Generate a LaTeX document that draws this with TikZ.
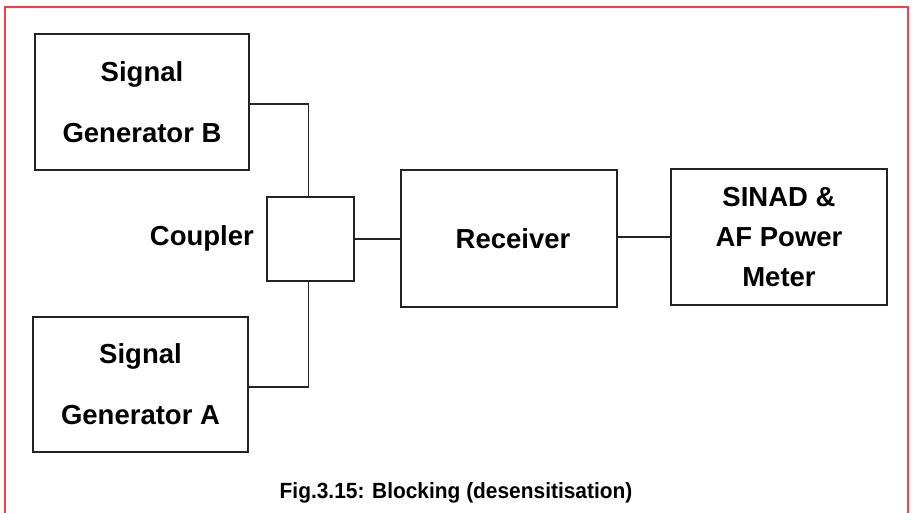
\documentclass[tikz,border=0pt]{standalone}
\usepackage{fontspec}
\setmainfont{Liberation Sans}
\definecolor{frame}{RGB}{250,60,70}
\definecolor{ink}{RGB}{35,35,35}
\begin{document}
\begin{tikzpicture}[x=1pt,y=-1pt,
  blockbox/.style={draw=ink,line width=1.3pt,rectangle,inner sep=0pt,align=center,
    font=\fontsize{27.5}{61}\selectfont\bfseries},
  wire/.style={draw=ink,line width=1.2pt},
  lbl/.style={inner sep=0pt,font=\fontsize{27.5}{33}\selectfont\bfseries}]
\useasboundingbox (0,0) rectangle (914,513);
\draw[frame,line width=1.6pt] (5,513) -- (5,7) -- (908,7) -- (908,513);
\node[blockbox,minimum width=214pt,minimum height=136pt] (genb) at (142,102) {Signal\\Generator B};
\node[blockbox,minimum width=215pt,minimum height=135pt] (gena) at (140.5,384.5) {Signal\\Generator A};
\node[blockbox,minimum width=87pt,minimum height=84pt] (coup) at (310.5,239) {};
\node[lbl,anchor=east] (coupl) at (254,238) {Coupler};
\node[blockbox,minimum width=216pt,minimum height=137pt] (rx) at (509,238.5) {\hspace*{8pt}Receiver};
\node[blockbox,minimum width=216pt,minimum height=136pt,font=\fontsize{27.5}{40}\selectfont\bfseries] (sinad) at (779,237) {SINAD \&\\AF Power\\Meter};
\coordinate (bturn) at (308.5,104);
\coordinate (aturn) at (308.5,387);
\draw[wire] (genb.east |- bturn) -- (bturn) -- (coup.north -| bturn);
\draw[wire] (gena.east |- aturn) -- (aturn) -- (coup.south -| aturn);
\draw[wire] (coup.east) -- (rx.west |- coup.east);
\draw[wire] (rx.east |- sinad.west) -- (sinad.west);
\node[inner sep=0pt,font=\fontsize{22}{26}\selectfont\bfseries] (cap) at (456,493) {\addfontfeature{FakeStretch=0.95}Fig.3.15: Blocking (desensitisation)};
\end{tikzpicture}
\end{document}
